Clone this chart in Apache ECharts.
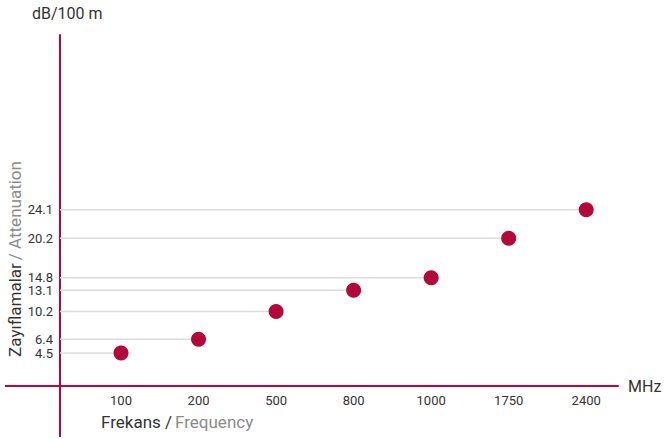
<!DOCTYPE html>
<html>
<head>
<meta charset="utf-8">
<script src="https://cdn.jsdelivr.net/npm/echarts@6/dist/echarts.min.js"></script>
<style>
  html, body { margin: 0; padding: 0; background: #fff; }
  #chart { width: 664px; height: 439px; }
</style>
</head>
<body>
<div id="chart"></div>
<script>
var frequencies = ['100', '200', '500', '800', '1000', '1750', '2400'];
var attenuation = [4.5, 6.4, 10.2, 13.1, 14.8, 20.2, 24.1];
var yTickValues = [4.5, 6.4, 10.2, 13.1, 14.8, 20.2, 24.1];

var crimson = '#b4073a';
var ink = '#333333';
var muted = '#8a8a8a';
var font = 'Roboto, "Noto Sans", sans-serif';

var chart = echarts.init(document.getElementById('chart'), null, { renderer: 'svg' });

var points = attenuation.map(function(v, i) { return [i, v]; });

chart.setOption({
  animation: false,
  textStyle: { fontFamily: font },
  grid: { left: 60, right: 46, top: 35, bottom: 53 },
  xAxis: {
    type: 'value',
    min: -0.787,
    max: 6.41,
    axisLine: { show: true, onZero: false, lineStyle: { color: crimson, width: 2 } },
    axisTick: { show: false },
    axisLabel: {
      customValues: frequencies.map(function(_, i) { return i; }),
      formatter: function(v) { return frequencies[Math.round(v)]; },
      color: ink,
      fontSize: 13,
      margin: 8,
      fontFamily: font
    },
    splitLine: { show: false }
  },
  yAxis: {
    type: 'value',
    min: 0,
    max: 48,
    interval: 12,
    axisLine: { show: true, onZero: false, lineStyle: { color: crimson, width: 2 } },
    axisTick: { show: false },
    axisLabel: {
      customValues: yTickValues,
      color: ink,
      fontSize: 13,
      lineHeight: 11,
      margin: 7,
      fontFamily: font
    },
    splitLine: { show: false }
  },
  series: [
    {
      type: 'custom',
      z: 1,
      data: points,
      renderItem: function(params, api) {
        var p = api.coord([api.value(0), api.value(1)]);
        var x0 = params.coordSys.x;
        return {
          type: 'line',
          shape: { x1: x0, y1: p[1], x2: p[0], y2: p[1] },
          style: { stroke: '#dcdcdc', lineWidth: 1.5 }
        };
      }
    },
    {
      type: 'scatter',
      z: 3,
      data: points,
      symbolSize: 15,
      itemStyle: { color: crimson, opacity: 1 }
    }
  ],
  graphic: [
    // axis lines run past the crossing point
    {
      type: 'line',
      shape: { x1: 5, y1: 386, x2: 61, y2: 386 },
      style: { stroke: crimson, lineWidth: 2 }
    },
    {
      type: 'line',
      shape: { x1: 60, y1: 385, x2: 60, y2: 437 },
      style: { stroke: crimson, lineWidth: 2 }
    },
    {
      type: 'text',
      left: 32,
      top: 5,
      style: { text: 'dB/100 m', fill: ink, fontSize: 16, fontFamily: font }
    },
    {
      type: 'text',
      x: 15,
      y: 259,
      rotation: Math.PI / 2,
      style: {
        text: '{a|Zayıflamalar} {b|/ Attenuation}',
        align: 'center',
        verticalAlign: 'middle',
        fontFamily: font,
        rich: {
          a: { fill: ink, fontSize: 17, fontFamily: font },
          b: { fill: muted, fontSize: 17, fontFamily: font }
        }
      }
    },
    {
      type: 'text',
      left: 101,
      top: 413,
      style: {
        text: '{a|Frekans /} {c|Frequency}',
        fontFamily: font,
        rich: {
          a: { fill: ink, fontSize: 17, fontFamily: font },
          c: { fill: muted, fontSize: 17, fontFamily: font }
        }
      }
    },
    {
      type: 'text',
      left: 628,
      top: 378,
      style: { text: 'MHz', fill: ink, fontSize: 16, fontFamily: font }
    }
  ]
});
</script>
</body>
</html>
